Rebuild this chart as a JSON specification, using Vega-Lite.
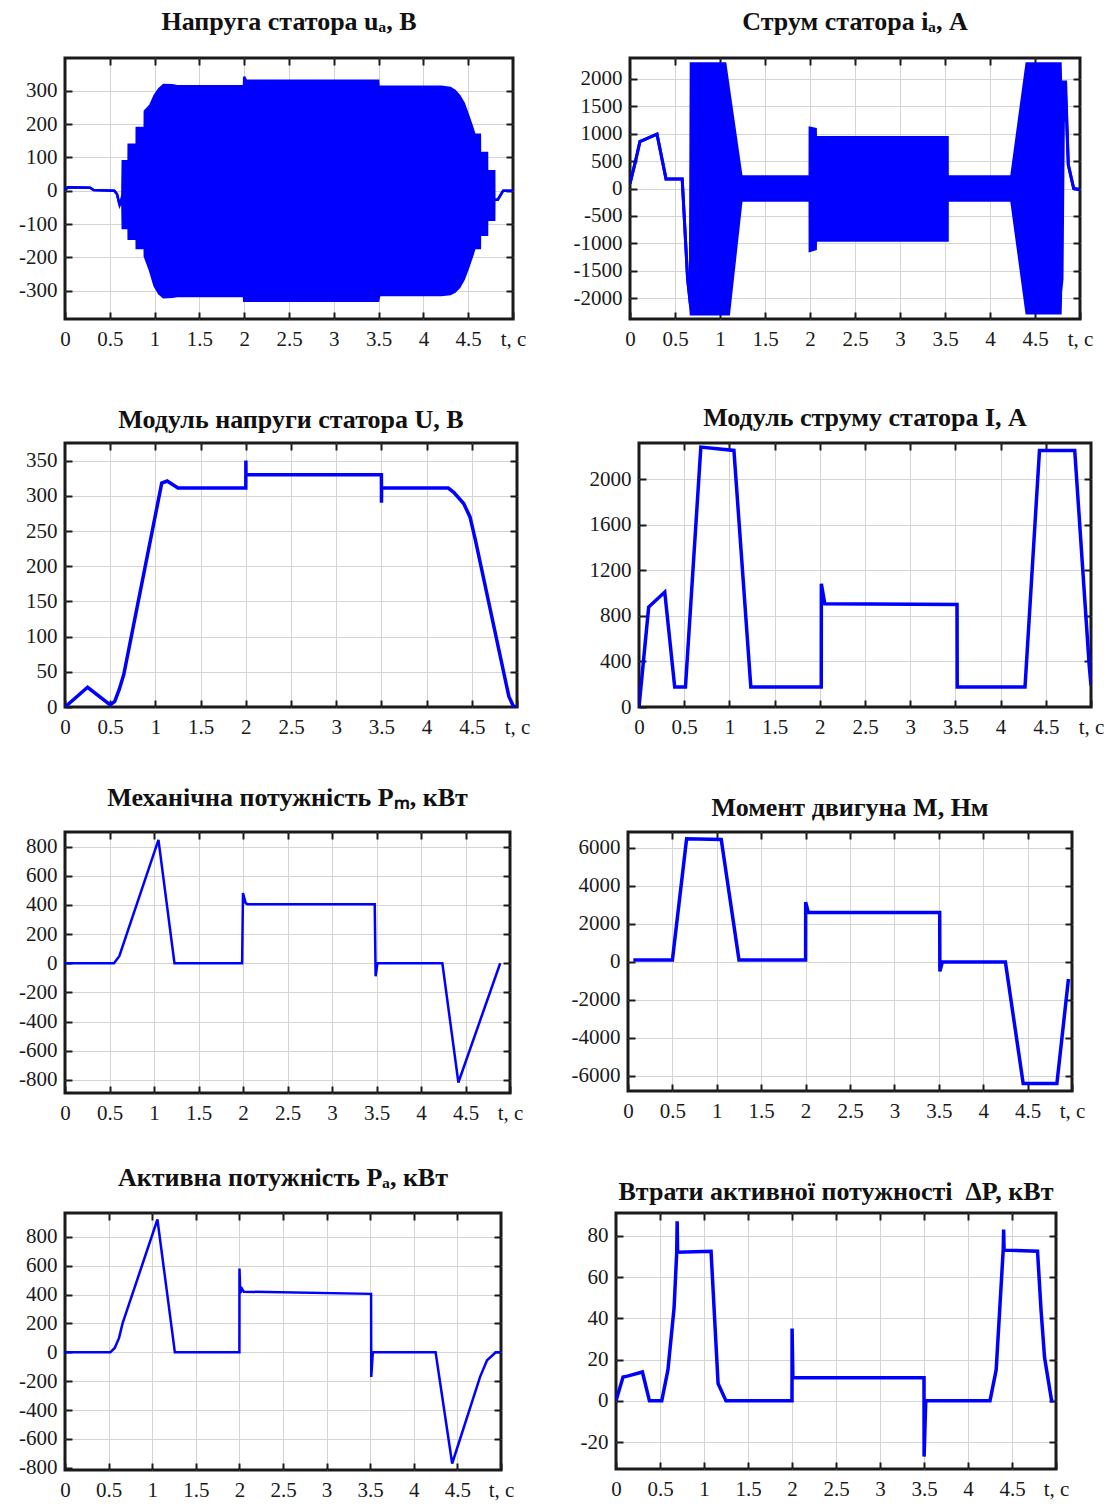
{
 "$schema": "https://vega.github.io/schema/vega-lite/v6.json",
 "background": "white",
 "padding": {"left": 13, "top": 7, "right": 5, "bottom": 0},
 "align": "each",
 "spacing": 34,
 "datasets": {
  "ua": [{"t":0,"hi":2,"lo":2},{"t":0.03,"hi":10,"lo":10},{"t":0.28,"hi":9,"lo":9},{"t":0.32,"hi":2,"lo":2},{"t":0.55,"hi":0,"lo":0},{"t":0.58,"hi":-10,"lo":-10},{"t":0.61,"hi":-44,"lo":-44},{"t":0.64,"hi":-15,"lo":-25},{"t":0.645,"hi":88,"lo":-112},{"t":0.71,"hi":88,"lo":-112},{"t":0.711,"hi":138,"lo":-144},{"t":0.8,"hi":138,"lo":-144},{"t":0.801,"hi":188,"lo":-172},{"t":0.89,"hi":188,"lo":-172},{"t":0.891,"hi":238,"lo":-197},{"t":0.95,"hi":255,"lo":-240},{"t":1.0,"hi":285,"lo":-285},{"t":1.05,"hi":305,"lo":-308},{"t":1.1,"hi":317,"lo":-320},{"t":1.2,"hi":316,"lo":-318},{"t":1.25,"hi":313,"lo":-316},{"t":1.998,"hi":313,"lo":-316},{"t":2.0,"hi":342,"lo":-330},{"t":2.02,"hi":330,"lo":-330},{"t":3.495,"hi":330,"lo":-330},{"t":3.5,"hi":300,"lo":-322},{"t":3.51,"hi":312,"lo":-313},{"t":4.2,"hi":312,"lo":-313},{"t":4.3,"hi":308,"lo":-310},{"t":4.35,"hi":300,"lo":-303},{"t":4.4,"hi":285,"lo":-290},{"t":4.45,"hi":262,"lo":-266},{"t":4.5,"hi":225,"lo":-230},{"t":4.55,"hi":185,"lo":-190},{"t":4.57,"hi":168,"lo":-172},{"t":4.63,"hi":168,"lo":-172},{"t":4.631,"hi":113,"lo":-132},{"t":4.71,"hi":113,"lo":-132},{"t":4.711,"hi":58,"lo":-87},{"t":4.79,"hi":58,"lo":-87},{"t":4.791,"hi":-27,"lo":-27},{"t":4.83,"hi":-27,"lo":-27},{"t":4.89,"hi":0,"lo":0},{"t":5,"hi":0,"lo":0}],
  "ia": [{"t":0,"hi":90,"lo":90},{"t":0.06,"hi":490,"lo":490},{"t":0.11,"hi":855,"lo":855},{"t":0.3,"hi":990,"lo":990},{"t":0.4,"hi":175,"lo":175},{"t":0.58,"hi":175,"lo":175},{"t":0.64,"hi":-1650,"lo":-1650},{"t":0.67,"hi":-2100,"lo":-2100},{"t":0.68,"hi":2275,"lo":-2290},{"t":1.055,"hi":2275,"lo":-2290},{"t":1.095,"hi":1817,"lo":-2290},{"t":1.235,"hi":213,"lo":-213},{"t":2.0,"hi":213,"lo":-213},{"t":2.001,"hi":1100,"lo":-1130},{"t":2.06,"hi":1080,"lo":-1100},{"t":2.061,"hi":930,"lo":-945},{"t":3.525,"hi":930,"lo":-945},{"t":3.526,"hi":213,"lo":-213},{"t":4.24,"hi":213,"lo":-213},{"t":4.41,"hi":2275,"lo":-2270},{"t":4.78,"hi":2275,"lo":-2270},{"t":4.785,"hi":1942,"lo":-1900},{"t":4.8,"hi":1942,"lo":-1650},{"t":4.815,"hi":1942,"lo":1200},{"t":4.84,"hi":1942,"lo":1700},{"t":4.87,"hi":430,"lo":430},{"t":4.93,"hi":0,"lo":0},{"t":5,"hi":-20,"lo":-20}],
  "U": [{"t":0,"v":0},{"t":0.25,"v":28},{"t":0.5,"v":3},{"t":0.55,"v":8},{"t":0.6,"v":25},{"t":0.65,"v":46},{"t":1.07,"v":318},{"t":1.13,"v":321},{"t":1.25,"v":311},{"t":2.0,"v":311},{"t":2.001,"v":350},{"t":2.002,"v":330},{"t":3.5,"v":330},{"t":3.501,"v":290},{"t":3.502,"v":311},{"t":4.24,"v":311},{"t":4.3,"v":305},{"t":4.41,"v":289},{"t":4.48,"v":270},{"t":4.54,"v":237},{"t":4.91,"v":15},{"t":4.96,"v":1},{"t":5.0,"v":0}],
  "I": [{"t":0,"v":0},{"t":0.107,"v":878},{"t":0.285,"v":1010},{"t":0.395,"v":175},{"t":0.514,"v":175},{"t":0.684,"v":2284},{"t":1.05,"v":2255},{"t":1.237,"v":175},{"t":2.016,"v":175},{"t":2.017,"v":1083},{"t":2.055,"v":908},{"t":3.518,"v":900},{"t":3.52,"v":175},{"t":4.27,"v":175},{"t":4.43,"v":2255},{"t":4.82,"v":2255},{"t":4.98,"v":366},{"t":5.0,"v":190}],
  "Pm": [{"t":0,"v":0},{"t":0.55,"v":0},{"t":0.61,"v":48},{"t":1.05,"v":846},{"t":1.23,"v":0},{"t":1.99,"v":0},{"t":2.0,"v":481},{"t":2.03,"v":412},{"t":2.05,"v":405},{"t":3.48,"v":405},{"t":3.49,"v":-90},{"t":3.51,"v":0},{"t":4.24,"v":0},{"t":4.42,"v":-818},{"t":4.89,"v":0}],
  "M": [{"t":0.06,"v":100},{"t":0.5,"v":100},{"t":0.66,"v":6480},{"t":1.05,"v":6450},{"t":1.25,"v":100},{"t":2.0,"v":100},{"t":2.001,"v":3150},{"t":2.03,"v":2600},{"t":3.51,"v":2600},{"t":3.512,"v":-500},{"t":3.54,"v":0},{"t":4.25,"v":0},{"t":4.45,"v":-6400},{"t":4.83,"v":-6400},{"t":4.96,"v":-900}],
  "Pa": [{"t":0,"v":0},{"t":0.52,"v":0},{"t":0.57,"v":30},{"t":0.62,"v":100},{"t":0.66,"v":200},{"t":1.06,"v":920},{"t":1.26,"v":0},{"t":2.0,"v":0},{"t":2.001,"v":580},{"t":2.01,"v":410},{"t":2.03,"v":440},{"t":2.05,"v":420},{"t":3.51,"v":405},{"t":3.512,"v":-170},{"t":3.53,"v":0},{"t":4.25,"v":0},{"t":4.44,"v":-770},{"t":4.76,"v":-170},{"t":4.84,"v":-55},{"t":4.94,"v":0},{"t":5.0,"v":0}],
  "dP": [{"t":0,"v":0},{"t":0.08,"v":11.6},{"t":0.13,"v":12},{"t":0.3,"v":14},{"t":0.38,"v":0},{"t":0.52,"v":0},{"t":0.59,"v":15},{"t":0.66,"v":45},{"t":0.69,"v":72},{"t":0.695,"v":87},{"t":0.7,"v":72},{"t":1.08,"v":72.5},{"t":1.16,"v":8.4},{"t":1.25,"v":0},{"t":2.0,"v":0},{"t":2.001,"v":35},{"t":2.01,"v":11.2},{"t":3.5,"v":11.2},{"t":3.501,"v":-27},{"t":3.52,"v":0},{"t":4.25,"v":0},{"t":4.32,"v":15},{"t":4.4,"v":73},{"t":4.405,"v":83},{"t":4.41,"v":73},{"t":4.79,"v":72.5},{"t":4.83,"v":44},{"t":4.87,"v":21},{"t":4.95,"v":0},{"t":4.97,"v":0}]
 },
 "vconcat": [
  {"hconcat": [
  {
   "width": 448, "height": 261,
   "title": {"text": "Напруга статора uₐ, В", "offset": 1, "baseline": "alphabetic", "anchor": "middle", "frame": "group"},
   "data": {"name": "ua"},
   "layer": [
    {"mark": {"type": "area", "color": "#0000ff", "clip": true},
     "encoding": {
      "x": {"field": "t", "type": "quantitative", "scale": {"domain": [0, 5], "nice": false, "zero": false},
            "axis": {"orient": "bottom", "minExtent": 48, "maxExtent": 48, "values": [0,0.5,1,1.5,2,2.5,3,3.5,4,4.5,5], "labelExpr": "datum.value == 5 ? 't, c' : '' + datum.value", "labelPadding": 16, "labelFlush": false, "labelOverlap": false, "grid": false, "title": null}},
      "y": {"field": "hi", "type": "quantitative", "scale": {"domain": [-385, 398], "nice": false, "zero": false},
            "axis": {"minExtent": 50, "maxExtent": 50, "values": [-300,-200,-100,0,100,200,300], "labelExpr": "'' + datum.value", "labelPadding": 15, "labelOverlap": false, "grid": false, "title": null}},
      "y2": {"field": "lo"}}},
    {"mark": {"type": "line", "color": "#0000ff", "strokeWidth": 2.5, "clip": true},
     "encoding": {
      "x": {"field": "t", "type": "quantitative", "axis": {"orient": "top", "values": [0.5,1,1.5,2,2.5,3,3.5,4,4.5], "labels": false, "grid": true, "title": null}},
      "y": {"field": "hi", "type": "quantitative", "axis": {"orient": "right", "values": [-300,-200,-100,0,100,200,300], "labels": false, "grid": true, "title": null}}}},
    {"mark": {"type": "line", "color": "#0000ff", "strokeWidth": 2.5, "clip": true},
     "encoding": {
      "x": {"field": "t", "type": "quantitative", "axis": null},
      "y": {"field": "lo", "type": "quantitative", "axis": null}}}
   ],
   "resolve": {"axis": {"x": "independent", "y": "independent"}}
  },
  {
   "width": 450, "height": 261,
   "title": {"text": "Струм статора iₐ, А", "offset": 1, "baseline": "alphabetic", "anchor": "middle", "frame": "group"},
   "data": {"name": "ia"},
   "layer": [
    {"mark": {"type": "area", "color": "#0000ff", "clip": true},
     "encoding": {
      "x": {"field": "t", "type": "quantitative", "scale": {"domain": [0, 5], "nice": false, "zero": false},
            "axis": {"orient": "bottom", "minExtent": 48, "maxExtent": 48, "values": [0,0.5,1,1.5,2,2.5,3,3.5,4,4.5,5], "labelExpr": "datum.value == 5 ? 't, c' : '' + datum.value", "labelPadding": 16, "labelFlush": false, "labelOverlap": false, "grid": false, "title": null}},
      "y": {"field": "hi", "type": "quantitative", "scale": {"domain": [-2380, 2380], "nice": false, "zero": false},
            "axis": {"values": [-2000,-1500,-1000,-500,0,500,1000,1500,2000], "labelExpr": "'' + datum.value", "labelPadding": 15, "labelOverlap": false, "grid": false, "title": null}},
      "y2": {"field": "lo"}}},
    {"mark": {"type": "line", "color": "#0000ff", "strokeWidth": 3, "clip": true},
     "encoding": {
      "x": {"field": "t", "type": "quantitative", "axis": {"orient": "top", "values": [0.5,1,1.5,2,2.5,3,3.5,4,4.5], "labels": false, "grid": true, "title": null}},
      "y": {"field": "hi", "type": "quantitative", "axis": {"orient": "right", "values": [-2000,-1500,-1000,-500,0,500,1000,1500,2000], "labels": false, "grid": true, "title": null}}}},
    {"mark": {"type": "line", "color": "#0000ff", "strokeWidth": 3, "clip": true},
     "encoding": {
      "x": {"field": "t", "type": "quantitative", "axis": null},
      "y": {"field": "lo", "type": "quantitative", "axis": null}}}
   ],
   "resolve": {"axis": {"x": "independent", "y": "independent"}}
  }], "spacing": 117, "bounds": "flush"},
  {"hconcat": [
  {
   "width": 452, "height": 264,
   "title": {"text": "Модуль напруги статора U, В", "offset": -12, "baseline": "alphabetic", "anchor": "middle", "frame": "group"},
   "data": {"name": "U"},
   "layer": [
    {"mark": {"type": "line", "color": "#0000ff", "strokeWidth": 3.5, "clip": true},
     "encoding": {
      "x": {"field": "t", "type": "quantitative", "scale": {"domain": [0, 5], "nice": false, "zero": false},
            "axis": {"orient": "bottom", "minExtent": 40, "maxExtent": 40, "values": [0,0.5,1,1.5,2,2.5,3,3.5,4,4.5,5], "labelExpr": "datum.value == 5 ? 't, c' : '' + datum.value", "labelPadding": 16, "labelFlush": false, "labelOverlap": false, "grid": false, "title": null}},
      "y": {"field": "v", "type": "quantitative", "scale": {"domain": [0, 375], "nice": false, "zero": false},
            "axis": {"minExtent": 50, "maxExtent": 50, "values": [0,50,100,150,200,250,300,350], "labelExpr": "'' + datum.value", "labelPadding": 15, "labelOverlap": false, "grid": false, "title": null}}}},
    {"mark": {"type": "line", "strokeOpacity": 0},
     "encoding": {
      "x": {"field": "t", "type": "quantitative", "axis": {"orient": "top", "values": [0.5,1,1.5,2,2.5,3,3.5,4,4.5], "labels": false, "grid": true, "title": null}},
      "y": {"field": "v", "type": "quantitative", "axis": {"orient": "right", "values": [50,100,150,200,250,300,350], "labels": false, "grid": true, "title": null}}}}
   ],
   "resolve": {"axis": {"x": "independent", "y": "independent"}}
  },
  {
   "width": 452, "height": 264,
   "title": {"text": "Модуль струму статора I, А", "offset": -10, "baseline": "alphabetic", "anchor": "middle", "frame": "group"},
   "data": {"name": "I"},
   "layer": [
    {"mark": {"type": "line", "color": "#0000ff", "strokeWidth": 3.5, "clip": true},
     "encoding": {
      "x": {"field": "t", "type": "quantitative", "scale": {"domain": [0, 5], "nice": false, "zero": false},
            "axis": {"orient": "bottom", "minExtent": 40, "maxExtent": 40, "values": [0,0.5,1,1.5,2,2.5,3,3.5,4,4.5,5], "labelExpr": "datum.value == 5 ? 't, c' : '' + datum.value", "labelPadding": 16, "labelFlush": false, "labelOverlap": false, "grid": false, "title": null}},
      "y": {"field": "v", "type": "quantitative", "scale": {"domain": [0, 2320], "nice": false, "zero": false},
            "axis": {"values": [0,400,800,1200,1600,2000], "labelExpr": "'' + datum.value", "labelPadding": 15, "labelOverlap": false, "grid": false, "title": null}}}},
    {"mark": {"type": "line", "strokeOpacity": 0},
     "encoding": {
      "x": {"field": "t", "type": "quantitative", "axis": {"orient": "top", "values": [0.5,1,1.5,2,2.5,3,3.5,4,4.5], "labels": false, "grid": true, "title": null}},
      "y": {"field": "v", "type": "quantitative", "axis": {"orient": "right", "values": [400,800,1200,1600,2000], "labels": false, "grid": true, "title": null}}}}
   ],
   "resolve": {"axis": {"x": "independent", "y": "independent"}}
  }], "spacing": 122, "bounds": "flush"},
  {"hconcat": [
  {
   "width": 445, "height": 261,
   "title": {"text": "Механічна потужність Pₘ, кВт", "offset": -1, "baseline": "alphabetic", "anchor": "middle", "frame": "group"},
   "data": {"name": "Pm"},
   "layer": [
    {"mark": {"type": "line", "color": "#0000ff", "strokeWidth": 2.5, "clip": true},
     "encoding": {
      "x": {"field": "t", "type": "quantitative", "scale": {"domain": [0, 5], "nice": false, "zero": false},
            "axis": {"orient": "bottom", "minExtent": 34, "maxExtent": 34, "values": [0,0.5,1,1.5,2,2.5,3,3.5,4,4.5,5], "labelExpr": "datum.value == 5 ? 't, c' : '' + datum.value", "labelPadding": 16, "labelFlush": false, "labelOverlap": false, "grid": false, "title": null}},
      "y": {"field": "v", "type": "quantitative", "scale": {"domain": [-890, 900], "nice": false, "zero": false},
            "axis": {"minExtent": 50, "maxExtent": 50, "values": [-800,-600,-400,-200,0,200,400,600,800], "labelExpr": "'' + datum.value", "labelPadding": 15, "labelOverlap": false, "grid": false, "title": null}}}},
    {"mark": {"type": "line", "strokeOpacity": 0},
     "encoding": {
      "x": {"field": "t", "type": "quantitative", "axis": {"orient": "top", "values": [0.5,1,1.5,2,2.5,3,3.5,4,4.5], "labels": false, "grid": true, "title": null}},
      "y": {"field": "v", "type": "quantitative", "axis": {"orient": "right", "values": [-800,-600,-400,-200,0,200,400,600,800], "labels": false, "grid": true, "title": null}}}}
   ],
   "resolve": {"axis": {"x": "independent", "y": "independent"}}
  },
  {
   "width": 444, "height": 259,
   "title": {"text": "Момент двигуна M, Нм", "offset": -11, "baseline": "alphabetic", "anchor": "middle", "frame": "group"},
   "data": {"name": "M"},
   "layer": [
    {"mark": {"type": "line", "color": "#0000ff", "strokeWidth": 3.5, "clip": true},
     "encoding": {
      "x": {"field": "t", "type": "quantitative", "scale": {"domain": [0, 5], "nice": false, "zero": false},
            "axis": {"orient": "bottom", "minExtent": 34, "maxExtent": 34, "values": [0,0.5,1,1.5,2,2.5,3,3.5,4,4.5,5], "labelExpr": "datum.value == 5 ? 't, c' : '' + datum.value", "labelPadding": 16, "labelFlush": false, "labelOverlap": false, "grid": false, "title": null}},
      "y": {"field": "v", "type": "quantitative", "scale": {"domain": [-6800, 6840], "nice": false, "zero": false},
            "axis": {"values": [-6000,-4000,-2000,0,2000,4000,6000], "labelExpr": "'' + datum.value", "labelPadding": 15, "labelOverlap": false, "grid": false, "title": null}}}},
    {"mark": {"type": "line", "strokeOpacity": 0},
     "encoding": {
      "x": {"field": "t", "type": "quantitative", "axis": {"orient": "top", "values": [0.5,1,1.5,2,2.5,3,3.5,4,4.5], "labels": false, "grid": true, "title": null}},
      "y": {"field": "v", "type": "quantitative", "axis": {"orient": "right", "values": [-6000,-4000,-2000,0,2000,4000,6000], "labels": false, "grid": true, "title": null}}}}
   ],
   "resolve": {"axis": {"x": "independent", "y": "independent"}}
  }], "spacing": 118, "bounds": "flush"},
  {"hconcat": [
  {
   "width": 436, "height": 257,
   "title": {"text": "Активна потужність Pₐ, кВт", "offset": 0, "baseline": "alphabetic", "anchor": "middle", "frame": "group"},
   "data": {"name": "Pa"},
   "layer": [
    {"mark": {"type": "line", "color": "#0000ff", "strokeWidth": 2.5, "clip": true},
     "encoding": {
      "x": {"field": "t", "type": "quantitative", "scale": {"domain": [0, 5], "nice": false, "zero": false},
            "axis": {"orient": "bottom", "minExtent": 30, "maxExtent": 30, "values": [0,0.5,1,1.5,2,2.5,3,3.5,4,4.5,5], "labelExpr": "datum.value == 5 ? 't, c' : '' + datum.value", "labelPadding": 16, "labelFlush": false, "labelOverlap": false, "grid": false, "title": null}},
      "y": {"field": "v", "type": "quantitative", "scale": {"domain": [-815, 965], "nice": false, "zero": false},
            "axis": {"minExtent": 50, "maxExtent": 50, "values": [-800,-600,-400,-200,0,200,400,600,800], "labelExpr": "'' + datum.value", "labelPadding": 15, "labelOverlap": false, "grid": false, "title": null}}}},
    {"mark": {"type": "line", "strokeOpacity": 0},
     "encoding": {
      "x": {"field": "t", "type": "quantitative", "axis": {"orient": "top", "values": [0.5,1,1.5,2,2.5,3,3.5,4,4.5], "labels": false, "grid": true, "title": null}},
      "y": {"field": "v", "type": "quantitative", "axis": {"orient": "right", "values": [-600,-400,-200,0,200,400,600,800], "labels": false, "grid": true, "title": null}}}}
   ],
   "resolve": {"axis": {"x": "independent", "y": "independent"}}
  },
  {
   "width": 440, "height": 256,
   "title": {"text": "Втрати активної потужності \u00a0ΔP, кВт", "offset": -14, "baseline": "alphabetic", "anchor": "middle", "frame": "group"},
   "data": {"name": "dP"},
   "layer": [
    {"mark": {"type": "line", "color": "#0000ff", "strokeWidth": 3.5, "clip": true},
     "encoding": {
      "x": {"field": "t", "type": "quantitative", "scale": {"domain": [0, 5], "nice": false, "zero": false},
            "axis": {"orient": "bottom", "minExtent": 30, "maxExtent": 30, "values": [0,0.5,1,1.5,2,2.5,3,3.5,4,4.5,5], "labelExpr": "datum.value == 5 ? 't, c' : '' + datum.value", "labelPadding": 16, "labelFlush": false, "labelOverlap": false, "grid": false, "title": null}},
      "y": {"field": "v", "type": "quantitative", "scale": {"domain": [-33, 91], "nice": false, "zero": false},
            "axis": {"values": [-20,0,20,40,60,80], "labelExpr": "'' + datum.value", "labelPadding": 15, "labelOverlap": false, "grid": false, "title": null}}}},
    {"mark": {"type": "line", "strokeOpacity": 0},
     "encoding": {
      "x": {"field": "t", "type": "quantitative", "axis": {"orient": "top", "values": [0.5,1,1.5,2,2.5,3,3.5,4,4.5], "labels": false, "grid": true, "title": null}},
      "y": {"field": "v", "type": "quantitative", "axis": {"orient": "right", "values": [-20,0,20,40,60,80], "labels": false, "grid": true, "title": null}}}}
   ],
   "resolve": {"axis": {"x": "independent", "y": "independent"}}
  }], "spacing": 115, "bounds": "flush"}
 ],
 "config": {
  "view": {"stroke": "#1a1a1a", "strokeWidth": 3},
  "axis": {"labelFont": "Liberation Serif", "labelFontSize": 21, "labelColor": "#1a1a1a", "domain": false, "gridColor": "#d4d4d4", "gridWidth": 1, "gridOpacity": 1, "tickColor": "#1a1a1a", "tickWidth": 2, "tickSize": -7},
  "title": {"font": "Liberation Serif", "fontSize": 26, "fontWeight": "bold", "color": "#111111"}
 }
}
